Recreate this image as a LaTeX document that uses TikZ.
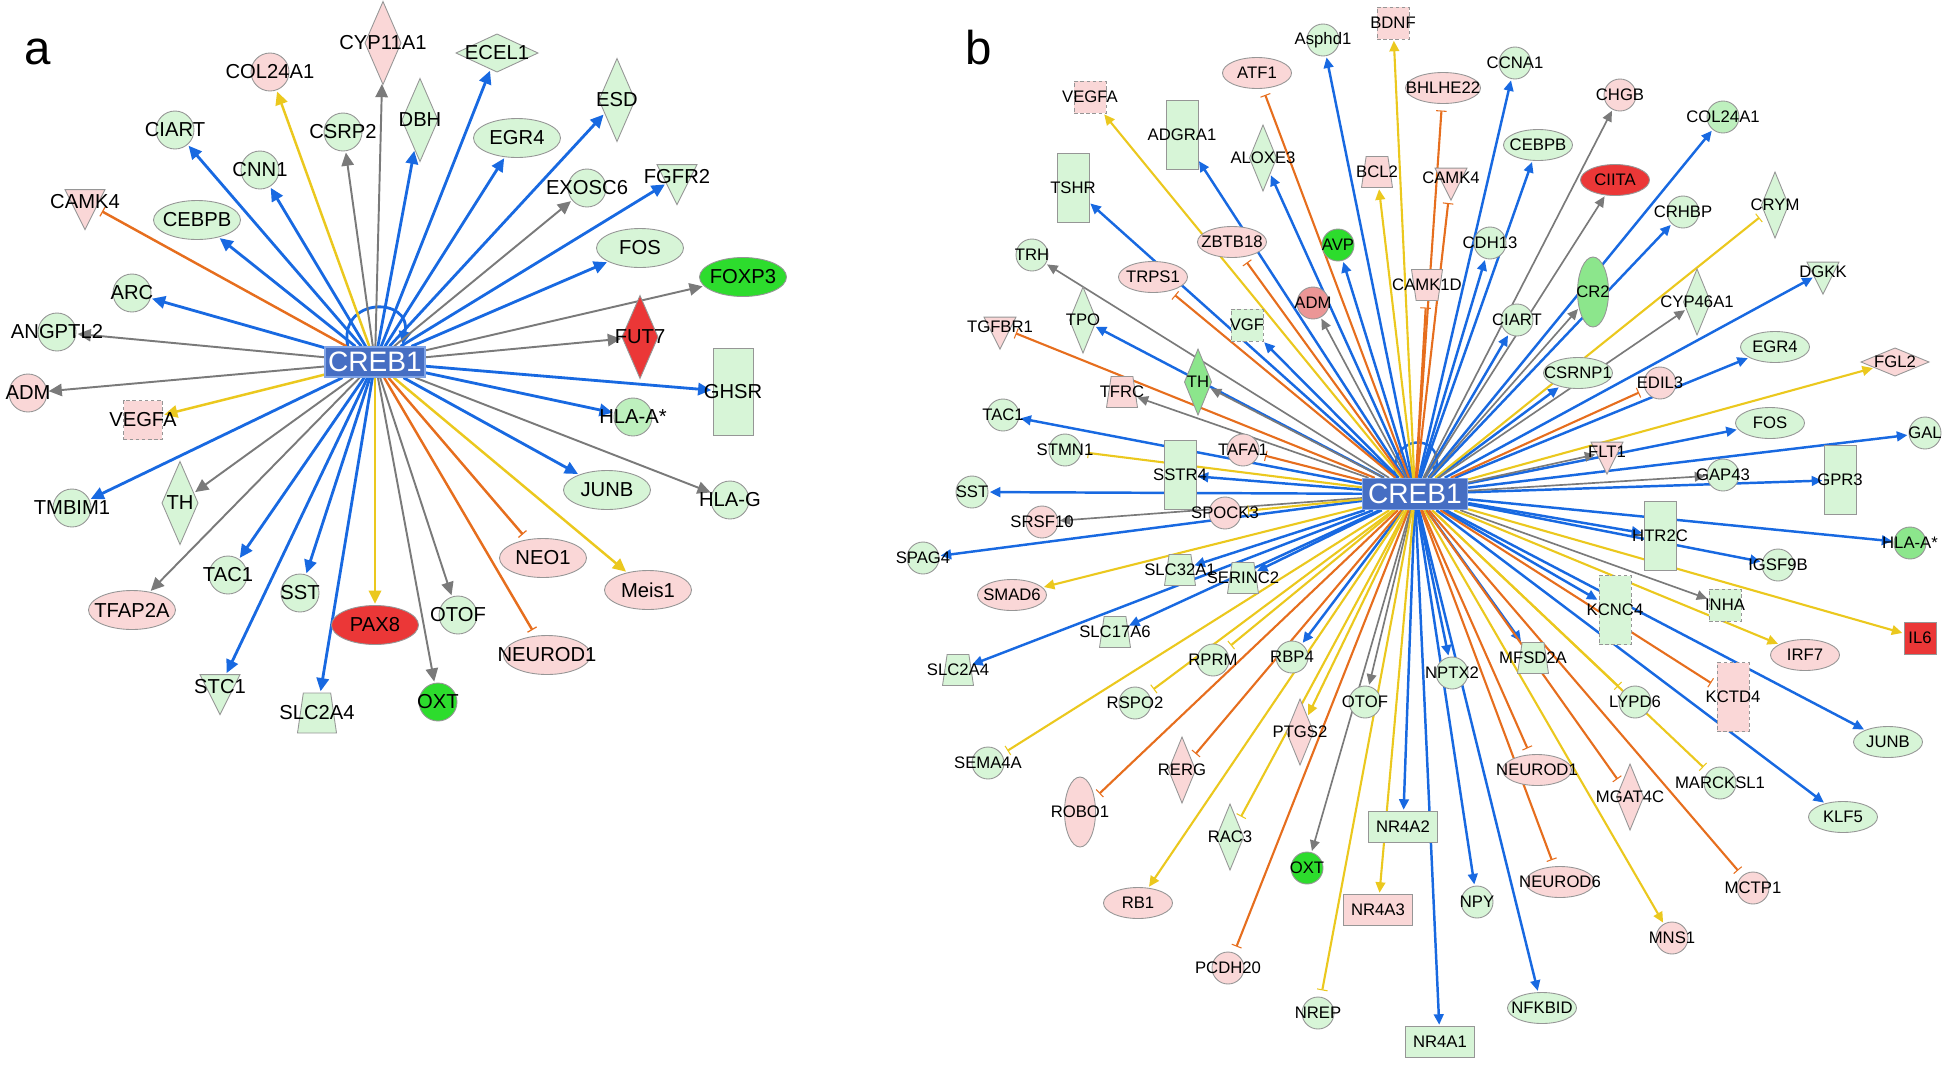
\documentclass[tikz,border=0pt]{standalone}
\usepackage{fontspec}
\setmainfont{Liberation Sans}
\usetikzlibrary{shapes.geometric,arrows.meta}
\pgfdeclarelayer{bg}
\pgfsetlayers{bg,main}
\definecolor{actblue}{RGB}{24,105,225}
\definecolor{nogray}{RGB}{122,122,122}
\definecolor{incyel}{RGB}{235,200,30}
\definecolor{inhorange}{RGB}{230,110,30}
\definecolor{lgreen}{RGB}{215,245,215}
\definecolor{lgreen2}{RGB}{190,240,190}
\definecolor{mgreen}{RGB}{140,230,140}
\definecolor{bgreen}{RGB}{45,220,45}
\definecolor{lpink}{RGB}{250,215,215}
\definecolor{spink}{RGB}{235,150,150}
\definecolor{bred}{RGB}{235,55,55}
\definecolor{bordgray}{RGB}{150,150,150}
\definecolor{crebfill}{RGB}{70,110,195}
\definecolor{crebline}{RGB}{130,165,230}
\tikzset{
  gene/.style={draw=bordgray, line width=0.5pt, inner sep=0pt, outer sep=0pt},
  dn/.style={fill=lgreen}, dnl/.style={fill=lgreen2}, dnm/.style={fill=mgreen}, dns/.style={fill=bgreen},
  upl/.style={fill=lpink}, ups/.style={fill=spink}, upr/.style={fill=bred},
  dsh/.style={dash pattern=on 2pt off 1.5pt},
  circA/.style={gene, circle, minimum size=0.76cm},
  ellA/.style={gene, ellipse, minimum width=1.74cm, minimum height=0.78cm},
  diaA/.style={gene, diamond, minimum width=0.72cm, minimum height=1.66cm},
  wdiaA/.style={gene, diamond, minimum width=1.64cm, minimum height=0.76cm},
  rectA/.style={gene, rectangle, minimum width=0.8cm, minimum height=1.74cm},
  sqA/.style={gene, rectangle, minimum size=0.78cm},
  triA/.style={gene, isosceles triangle, isosceles triangle stretches, shape border rotate=270, minimum width=0.8cm, minimum height=0.8cm},
  trapA/.style={gene, trapezium, inner sep=2pt, trapezium stretches, trapezium angle=78, minimum width=0.78cm, minimum height=0.8cm},
  circB/.style={gene, circle, minimum size=0.64cm},
  ellB/.style={gene, ellipse, minimum width=1.38cm, minimum height=0.62cm},
  vellB/.style={gene, ellipse, minimum width=0.62cm, minimum height=1.4cm},
  diaB/.style={gene, diamond, minimum width=0.54cm, minimum height=1.32cm},
  wdiaB/.style={gene, diamond, minimum width=1.36cm, minimum height=0.56cm},
  rectB/.style={gene, rectangle, minimum width=0.64cm, minimum height=1.38cm},
  wrectB/.style={gene, rectangle, minimum width=1.38cm, minimum height=0.62cm},
  sqB/.style={gene, rectangle, minimum size=0.64cm},
  triB/.style={gene, isosceles triangle, isosceles triangle stretches, shape border rotate=270, minimum width=0.64cm, minimum height=0.64cm},
  trapB/.style={gene, trapezium, inner sep=2pt, trapezium stretches, trapezium angle=78, minimum width=0.62cm, minimum height=0.62cm},
  creb/.style={draw=crebline, fill=crebfill, text=white, line width=0.8pt, font=\fontsize{16}{16}\selectfont, inner sep=0pt, minimum width=2cm, minimum height=0.6cm},
  panel/.style={font=\fontsize{27}{27}\selectfont, inner sep=0pt},
  lw/.style={line width=1.6pt}, lwt/.style={line width=1.1pt}, lwm/.style={line width=1.4pt},
  head/.style={-{Triangle[length=7.5pt,width=7pt]}, shorten >=1pt},
  tbar/.style={-{Bar[width=6pt,line width=0.7pt]}, shorten >=4pt},
  act/.style={draw=actblue, lw, head},
  nop/.style={draw=nogray, lwt, head},
  inc/.style={draw=incyel, lwm, head},
  incb/.style={draw=incyel, lwm, tbar},
  inh/.style={draw=inhorange, lwm, tbar}
}
\begin{document}
\begin{tikzpicture}[x=0.02cm, y=-0.02cm, every label/.style={font=\fontsize{11.5}{12}\selectfont, inner sep=0pt}]
\useasboundingbox (0,0) rectangle (1950,1069);
% panel a
\node[panel] (pa) at (38,52) {a};
\node[creb] (crebA) at (375,362) {CREB1};
\node[circA, upl, label=center:COL24A1] (col24a1A) at (270,72) {};
\node[diaA, upl, label=center:CYP11A1] (cyp11a1) at (383,43) {};
\node[wdiaA, dn, label=center:ECEL1] (ecel1) at (497,53) {};
\node[circA, dn, label=center:CIART] (ciartA) at (175,130) {};
\node[circA, dn, label=center:CSRP2] (csrp2) at (343,132) {};
\node[diaA, dn, label=center:DBH] (dbh) at (420,120) {};
\node[circA, dn, label=center:CNN1] (cnn1) at (260,170) {};
\node[ellA, dn, label=center:EGR4] (egr4A) at (517,138) {};
\node[diaA, dn, label=center:ESD] (esd) at (617,100) {};
\node[circA, dn, label=center:EXOSC6] (exosc6) at (587,188) {};
\node[triA, dn, label=center:FGFR2] (fgfr2) at (677,177) {};
\node[triA, upl, label=center:CAMK4] (camk4A) at (85,202) {};
\node[ellA, dn, label=center:CEBPB] (cebpbA) at (197,220) {};
\node[ellA, dn, label=center:FOS] (fosA) at (640,248) {};
\node[ellA, dns, label=center:FOXP3] (foxp3) at (743,277) {};
\node[circA, dn, label=center:ARC] (arc) at (132,293) {};
\node[circA, dn, label=center:ANGPTL2] (angptl2) at (57,332) {};
\node[diaA, upr, label=center:FUT7] (fut7) at (640,337) {};
\node[circA, upl, label=center:ADM] (admA) at (28,393) {};
\node[sqA, upl, dsh, label=center:VEGFA] (vegfaA) at (143,420) {};
\node[rectA, dn, label=center:GHSR] (ghsr) at (733,392) {};
\node[circA, dnl, label=center:HLA-A*] (hlaaA) at (633,417) {};
\node[ellA, dn, label=center:JUNB] (junbA) at (607,490) {};
\node[circA, dn, label=center:HLA-G] (hlag) at (730,500) {};
\node[circA, dn, label=center:TMBIM1] (tmbim1) at (72,508) {};
\node[diaA, dn, label=center:TH] (thA) at (180,503) {};
\node[ellA, upl, label=center:NEO1] (neo1) at (543,558) {};
\node[circA, dn, label=center:TAC1] (tac1A) at (228,575) {};
\node[circA, dn, label=center:SST] (sstA) at (300,593) {};
\node[ellA, upl, label=center:Meis1] (meis1) at (648,590) {};
\node[ellA, upl, label=center:TFAP2A] (tfap2a) at (132,610) {};
\node[circA, dn, label=center:OTOF] (otofA) at (458,615) {};
\node[ellA, upr, label=center:PAX8] (pax8) at (375,625) {};
\node[ellA, upl, label=center:NEUROD1] (neurod1A) at (547,655) {};
\node[triA, dn, label=center:STC1] (stc1) at (220,687) {};
\node[circA, dns, label=center:OXT] (oxtA) at (438,702) {};
\node[trapA, dn, label=center:SLC2A4] (slc2a4A) at (317,713) {};
\begin{pgfonlayer}{bg}
\draw[act] (crebA.150) .. controls +(-10,-50) and +(10,-50) .. (crebA.30);
\draw[act] (crebA) -- (ciartA);
\draw[act] (crebA) -- (cnn1);
\draw[act] (crebA) -- (cebpbA);
\draw[act] (crebA) -- (arc);
\draw[act] (crebA) -- (dbh);
\draw[act] (crebA) -- (ecel1);
\draw[act] (crebA) -- (egr4A);
\draw[act] (crebA) -- (esd);
\draw[act] (crebA) -- (fgfr2);
\draw[act] (crebA) -- (fosA);
\draw[act] (crebA) -- (ghsr);
\draw[act] (crebA) -- (hlaaA);
\draw[act] (crebA) -- (junbA);
\draw[act] (crebA) -- (tmbim1);
\draw[act] (crebA) -- (tac1A);
\draw[act] (crebA) -- (sstA);
\draw[act] (crebA) -- (stc1);
\draw[act] (crebA) -- (slc2a4A);
\draw[nop] (crebA) -- (cyp11a1);
\draw[nop] (crebA) -- (csrp2);
\draw[nop] (crebA) -- (angptl2);
\draw[nop] (crebA) -- (admA);
\draw[nop] (crebA) -- (exosc6);
\draw[nop] (crebA) -- (foxp3);
\draw[nop] (crebA) -- (fut7);
\draw[nop] (crebA) -- (hlag);
\draw[nop] (crebA) -- (thA);
\draw[nop] (crebA) -- (tfap2a);
\draw[nop] (crebA) -- (otofA);
\draw[nop] (crebA) -- (oxtA);
\draw[inc] (crebA) -- (col24a1A);
\draw[inc] (crebA) -- (vegfaA);
\draw[inc] (crebA) -- (pax8);
\draw[inc] (crebA) -- (meis1);
\draw[inh] (crebA) -- (camk4A);
\draw[inh] (crebA) -- (neo1);
\draw[inh] (crebA) -- (neurod1A);
\end{pgfonlayer}
% panel b
\begin{scope}[every label/.style={font=\fontsize{9.5}{10}\selectfont, inner sep=0pt},
  lw/.style={line width=1.4pt}, lwt/.style={line width=0.95pt}, lwm/.style={line width=1.2pt},
  head/.style={-{Triangle[length=6pt,width=5.5pt]}, shorten >=1pt},
  tbar/.style={-{Bar[width=6pt,line width=0.6pt]}, shorten >=4pt}]
\node[panel] (pb) at (979,48) {b};
\node[creb, minimum width=2.1cm, minimum height=0.62cm] (crebB) at (1415,494) {CREB1};
\node[circB, dn, label=center:Asphd1] (asphd1) at (1323,40) {};
\node[sqB, upl, dsh, label=center:BDNF] (bdnf) at (1393,23) {};
\node[ellB, upl, label=center:ATF1] (atf1) at (1257,73) {};
\node[sqB, upl, dsh, label=center:VEGFA] (vegfaB) at (1090,97) {};
\node[ellB, upl, minimum width=1.5cm, label=center:BHLHE22] (bhlhe22) at (1443,88) {};
\node[circB, dn, label=center:CCNA1] (ccna1) at (1515,63) {};
\node[circB, upl, label=center:CHGB] (chgb) at (1620,95) {};
\node[circB, dnl, label=center:COL24A1] (col24a1B) at (1723,117) {};
\node[rectB, dn, label=center:ADGRA1] (adgra1) at (1182,135) {};
\node[ellB, dn, label=center:CEBPB] (cebpbB) at (1538,145) {};
\node[diaB, dn, label=center:ALOXE3] (aloxe3) at (1263,158) {};
\node[trapB, upl, label=center:BCL2] (bcl2) at (1377,172) {};
\node[triB, upl, label=center:CAMK4] (camk4B) at (1451,178) {};
\node[ellB, upr, label=center:CIITA] (ciita) at (1615,180) {};
\node[rectB, dn, label=center:TSHR] (tshr) at (1073,188) {};
\node[diaB, dn, label=center:CRYM] (crym) at (1775,205) {};
\node[circB, dn, label=center:CRHBP] (crhbp) at (1683,212) {};
\node[ellB, upl, label=center:ZBTB18] (zbtb18) at (1232,242) {};
\node[circB, dns, label=center:AVP] (avp) at (1338,245) {};
\node[circB, dn, label=center:CDH13] (cdh13) at (1490,243) {};
\node[circB, dn, label=center:TRH] (trh) at (1032,255) {};
\node[triB, dn, label=center:DGKK] (dgkk) at (1823,272) {};
\node[ellB, upl, label=center:TRPS1] (trps1) at (1153,277) {};
\node[trapB, upl, shape border rotate=180, label=center:CAMK1D] (camk1d) at (1427,285) {};
\node[vellB, dnm, label=center:CR2] (cr2) at (1593,292) {};
\node[circB, ups, label=center:ADM] (admB) at (1313,303) {};
\node[diaB, dn, label=center:CYP46A1] (cyp46a1) at (1697,302) {};
\node[triB, upl, label=center:TGFBR1] (tgfbr1) at (1000,327) {};
\node[diaB, dn, label=center:TPO] (tpo) at (1083,320) {};
\node[sqB, dn, dsh, label=center:VGF] (vgf) at (1247,325) {};
\node[circB, dn, label=center:CIART] (ciartB) at (1517,320) {};
\node[ellB, dn, label=center:EGR4] (egr4B) at (1775,347) {};
\node[wdiaB, upl, label=center:FGL2] (fgl2) at (1895,362) {};
\node[ellB, dn, label=center:CSRNP1] (csrnp1) at (1578,373) {};
\node[diaB, dnm, label=center:TH] (thB) at (1198,382) {};
\node[circB, upl, label=center:EDIL3] (edil3) at (1660,383) {};
\node[trapB, upl, label=center:TFRC] (tfrc) at (1122,392) {};
\node[circB, dn, label=center:TAC1] (tac1B) at (1003,415) {};
\node[ellB, dn, label=center:FOS] (fosB) at (1770,423) {};
\node[circB, dn, label=center:GAL] (gal) at (1925,433) {};
\node[circB, dn, label=center:STMN1] (stmn1) at (1065,450) {};
\node[circB, upl, label=center:TAFA1] (tafa1) at (1243,450) {};
\node[triB, upl, label=center:FLT1] (flt1) at (1607,452) {};
\node[rectB, dn, label=center:SSTR4] (sstr4) at (1180,475) {};
\node[circB, dn, label=center:GAP43] (gap43) at (1723,475) {};
\node[rectB, dn, label=center:GPR3] (gpr3) at (1840,480) {};
\node[circB, dn, label=center:SST] (sstB) at (972,492) {};
\node[circB, upl, label=center:SPOCK3] (spock3) at (1225,513) {};
\node[circB, upl, label=center:SRSF10] (srsf10) at (1042,522) {};
\node[rectB, dn, label=center:HTR2C] (htr2c) at (1660,536) {};
\node[circB, dnm, label=center:HLA-A*] (hlaaB) at (1910,543) {};
\node[circB, dn, label=center:SPAG4] (spag4) at (923,558) {};
\node[circB, dn, label=center:IGSF9B] (igsf9b) at (1778,565) {};
\node[trapB, dn, label=center:SLC32A1] (slc32a1) at (1180,570) {};
\node[trapB, dn, label=center:SERINC2] (serinc2) at (1243,578) {};
\node[ellB, upl, label=center:SMAD6] (smad6) at (1012,595) {};
\node[sqB, dn, dsh, label=center:INHA] (inha) at (1725,605) {};
\node[rectB, dn, dsh, label=center:KCNC4] (kcnc4) at (1615,610) {};
\node[trapB, dn, label=center:SLC17A6] (slc17a6) at (1115,632) {};
\node[sqB, upr, label=center:IL6] (il6) at (1920,638) {};
\node[ellB, upl, label=center:IRF7] (irf7) at (1805,655) {};
\node[circB, dn, label=center:RPRM] (rprm) at (1213,660) {};
\node[circB, dn, label=center:RBP4] (rbp4) at (1292,657) {};
\node[trapB, dn, label=center:MFSD2A] (mfsd2a) at (1533,658) {};
\node[trapB, dn, label=center:SLC2A4] (slc2a4B) at (958,670) {};
\node[circB, dn, label=center:NPTX2] (nptx2) at (1452,673) {};
\node[rectB, upl, dsh, label=center:KCTD4] (kctd4) at (1733,697) {};
\node[circB, dn, label=center:LYPD6] (lypd6) at (1635,702) {};
\node[circB, dn, label=center:RSPO2] (rspo2) at (1135,703) {};
\node[circB, dn, label=center:OTOF] (otofB) at (1365,702) {};
\node[diaB, upl, label=center:PTGS2] (ptgs2) at (1300,732) {};
\node[ellB, dn, label=center:JUNB] (junbB) at (1888,742) {};
\node[circB, dn, label=center:SEMA4A] (sema4a) at (988,763) {};
\node[diaB, upl, label=center:RERG] (rerg) at (1182,770) {};
\node[ellB, upl, label=center:NEUROD1] (neurod1B) at (1537,770) {};
\node[diaB, upl, label=center:MGAT4C] (mgat4c) at (1630,797) {};
\node[circB, dn, label=center:MARCKSL1] (marcksl1) at (1720,783) {};
\node[ellB, dn, label=center:KLF5] (klf5) at (1843,817) {};
\node[vellB, upl, label=center:ROBO1] (robo1) at (1080,812) {};
\node[diaB, dn, label=center:RAC3] (rac3) at (1230,837) {};
\node[wrectB, dn, label=center:NR4A2] (nr4a2) at (1403,827) {};
\node[circB, dns, label=center:OXT] (oxtB) at (1307,868) {};
\node[ellB, upl, label=center:RB1] (rb1) at (1138,903) {};
\node[wrectB, upl, label=center:NR4A3] (nr4a3) at (1378,910) {};
\node[ellB, upl, label=center:NEUROD6] (neurod6) at (1560,882) {};
\node[circB, upl, label=center:MCTP1] (mctp1) at (1753,888) {};
\node[circB, upl, label=center:PCDH20] (pcdh20) at (1228,968) {};
\node[circB, dn, label=center:NPY] (npy) at (1477,902) {};
\node[circB, upl, label=center:MNS1] (mns1) at (1672,938) {};
\node[circB, dn, label=center:NREP] (nrep) at (1318,1013) {};
\node[ellB, dn, label=center:NFKBID] (nfkbid) at (1542,1008) {};
\node[wrectB, dn, label=center:NR4A1] (nr4a1) at (1440,1042) {};
\begin{pgfonlayer}{bg}
\draw[act] (crebB.140) .. controls +(-8,-45) and +(8,-45) .. (crebB.40);
\draw[act] (crebB) -- (asphd1);
\draw[act] (crebB) -- (adgra1);
\draw[act] (crebB) -- (aloxe3);
\draw[act] (crebB) -- (tshr);
\draw[act] (crebB) -- (avp);
\draw[act] (crebB) -- (ccna1);
\draw[act] (crebB) -- (col24a1B);
\draw[act] (crebB) -- (cebpbB);
\draw[act] (crebB) -- (crhbp);
\draw[act] (crebB) -- (cdh13);
\draw[act] (crebB) -- (dgkk);
\draw[act] (crebB) -- (tpo);
\draw[act] (crebB) -- (vgf);
\draw[act] (crebB) -- (ciartB);
\draw[act] (crebB) -- (csrnp1);
\draw[act] (crebB) -- (egr4B);
\draw[act] (crebB) -- (tac1B);
\draw[act] (crebB) -- (fosB);
\draw[act] (crebB) -- (gal);
\draw[act] (crebB) -- (gpr3);
\draw[act] (crebB) -- (sstr4);
\draw[act] (crebB) -- (sstB);
\draw[act] (crebB) -- (htr2c);
\draw[act] (crebB) -- (hlaaB);
\draw[act] (crebB) -- (igsf9b);
\draw[act] (crebB) -- (spag4);
\draw[act] (crebB) -- (slc32a1);
\draw[act] (crebB) -- (serinc2);
\draw[act] (crebB) -- (kcnc4);
\draw[act] (crebB) -- (slc17a6);
\draw[act] (crebB) -- (rbp4);
\draw[act] (crebB) -- (mfsd2a);
\draw[act] (crebB) -- (slc2a4B);
\draw[act] (crebB) -- (nptx2);
\draw[act] (crebB) -- (junbB);
\draw[act] (crebB) -- (klf5);
\draw[act] (crebB) -- (nr4a2);
\draw[act] (crebB) -- (npy);
\draw[act] (crebB) -- (nfkbid);
\draw[act] (crebB) -- (nr4a1);
\draw[nop] (crebB) -- (chgb);
\draw[nop] (crebB) -- (ciita);
\draw[nop] (crebB) -- (cr2);
\draw[nop] (crebB) -- (cyp46a1);
\draw[nop] (crebB) -- (trh);
\draw[nop] (crebB) -- (admB);
\draw[nop] (crebB) -- (thB);
\draw[nop] (crebB) -- (tfrc);
\draw[nop] (crebB) -- (gap43);
\draw[nop] (crebB) -- (srsf10);
\draw[nop] (crebB) -- (inha);
\draw[nop] (crebB) -- (otofB);
\draw[nop] (crebB) -- (oxtB);
\draw[nop] (crebB) -- (flt1);
\draw[inc] (crebB) -- (bdnf);
\draw[inc] (crebB) -- (vegfaB);
\draw[inc] (crebB) -- (bcl2);
\draw[inc] (crebB) -- (fgl2);
\draw[inc] (crebB) -- (il6);
\draw[inc] (crebB) -- (irf7);
\draw[inc] (crebB) -- (smad6);
\draw[inc] (crebB) -- (ptgs2);
\draw[inc] (crebB) -- (rb1);
\draw[inc] (crebB) -- (nr4a3);
\draw[inc] (crebB) -- (mns1);
\draw[incb] (crebB) -- (crym);
\draw[incb] (crebB) -- (stmn1);
\draw[incb] (crebB) -- (spock3);
\draw[incb] (crebB) -- (rprm);
\draw[incb] (crebB) -- (rspo2);
\draw[incb] (crebB) -- (sema4a);
\draw[incb] (crebB) -- (rac3);
\draw[incb] (crebB) -- (lypd6);
\draw[incb] (crebB) -- (marcksl1);
\draw[incb] (crebB) -- (nrep);
\draw[inh] (crebB) -- (atf1);
\draw[inh] (crebB) -- (bhlhe22);
\draw[inh] (crebB) -- (camk4B);
\draw[inh] (crebB) -- (zbtb18);
\draw[inh] (crebB) -- (trps1);
\draw[inh] (crebB) -- (camk1d);
\draw[inh] (crebB) -- (tgfbr1);
\draw[inh] (crebB) -- (edil3);
\draw[inh] (crebB) -- (tafa1);
\draw[inh] (crebB) -- (robo1);
\draw[inh] (crebB) -- (rerg);
\draw[inh] (crebB) -- (kctd4);
\draw[inh] (crebB) -- (neurod1B);
\draw[inh] (crebB) -- (mgat4c);
\draw[inh] (crebB) -- (neurod6);
\draw[inh] (crebB) -- (mctp1);
\draw[inh] (crebB) -- (pcdh20);
\end{pgfonlayer}
\end{scope}
\end{tikzpicture}
\end{document}
